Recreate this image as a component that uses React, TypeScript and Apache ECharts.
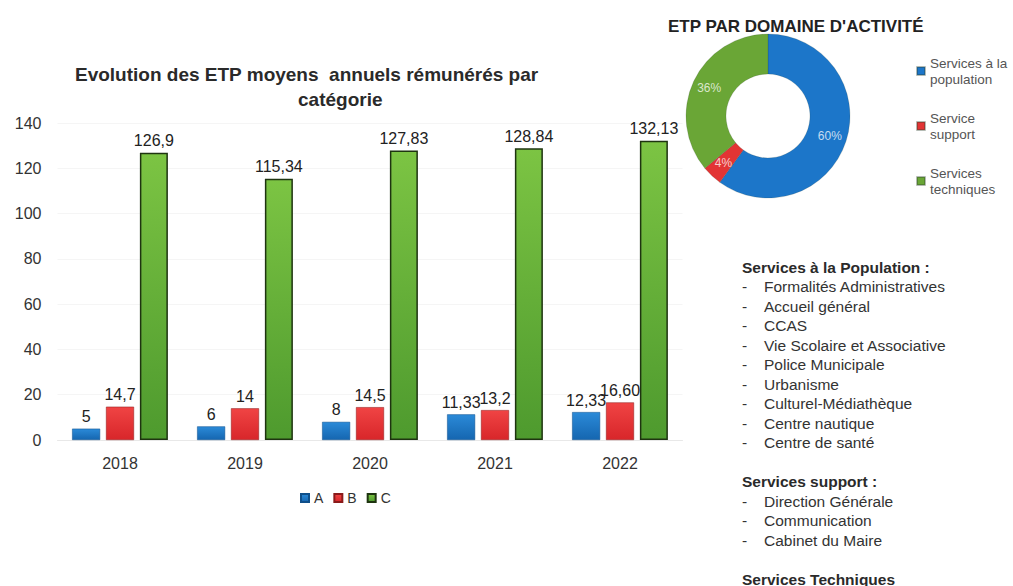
import React, { useEffect, useRef } from "react";
import * as echarts from "echarts";

const years = ["2018", "2019", "2020", "2021", "2022"];
const valuesA = [5, 6, 8, 11.33, 12.33];
const valuesB = [14.7, 14, 14.5, 13.2, 16.6];
const valuesC = [126.9, 115.34, 127.83, 128.84, 132.13];
const labelsA = ["5", "6", "8", "11,33", "12,33"];
const labelsB = ["14,7", "14", "14,5", "13,2", "16,60"];
const labelsC = ["126,9", "115,34", "127,83", "128,84", "132,13"];
const yTicks = { min: 0, max: 140, interval: 20 };

const domainNames = ["Services à la\npopulation", "Service\nsupport", "Services\ntechniques"];
const domainValues = [60, 4, 36];

const populationHeader = "Services à la Population :";
const populationItems = [
  "Formalités Administratives",
  "Accueil général",
  "CCAS",
  "Vie Scolaire et Associative",
  "Police Municipale",
  "Urbanisme",
  "Culturel-Médiathèque",
  "Centre nautique",
  "Centre de santé",
];
const supportHeader = "Services support :";
const supportItems = ["Direction Générale", "Communication", "Cabinet du Maire"];
const techHeader = "Services Techniques";

const FONT = "'Liberation Sans', Arial, Helvetica, sans-serif";

export default function App() {
  const ref = useRef<HTMLDivElement>(null);
  useEffect(() => {
    if (!ref.current) return;
    const chart = echarts.init(ref.current, undefined, { renderer: "svg" });
    const grad = (top: string, bottom: string) =>
      new echarts.graphic.LinearGradient(0, 0, 0, 1, [
        { offset: 0, color: top },
        { offset: 1, color: bottom },
      ]);

    const graphics: any[] = [];
    const lineH = 19.5;
    let y = 267;
    const addHeader = (t: string) => {
      graphics.push({
        type: "text",
        x: 742,
        y,
        style: { text: t, font: `bold 15.5px ${FONT}`, fill: "#2a2a2a", verticalAlign: "middle" },
      });
      y += lineH;
    };
    const addItem = (t: string) => {
      graphics.push({
        type: "text",
        x: 742,
        y,
        style: { text: "-", font: `15.5px ${FONT}`, fill: "#333", verticalAlign: "middle" },
      });
      graphics.push({
        type: "text",
        x: 764,
        y,
        style: { text: t, font: `15.5px ${FONT}`, fill: "#333", verticalAlign: "middle" },
      });
      y += lineH;
    };
    addHeader(populationHeader);
    populationItems.forEach(addItem);
    y += lineH;
    addHeader(supportHeader);
    supportItems.forEach(addItem);
    y += lineH;
    addHeader(techHeader);

    const barLabel = (labels: string[]) => ({
      show: true,
      position: "top",
      distance: 4,
      fontSize: 16,
      color: "#222",
      fontFamily: FONT,
      formatter: (p: any) => labels[p.dataIndex],
    });

    chart.setOption({
      animation: false,
      backgroundColor: "#ffffff",
      textStyle: { fontFamily: FONT },
      title: [
        {
          text: "Evolution des ETP moyens  annuels rémunérés par",
          left: 70,
          top: 60,
          textStyle: { fontSize: 19, fontWeight: "bold", color: "#2a2a2a", fontFamily: FONT },
        },
        {
          text: "catégorie",
          left: 293,
          top: 85,
          textStyle: { fontSize: 19, fontWeight: "bold", color: "#2a2a2a", fontFamily: FONT },
        },
        {
          text: "ETP PAR DOMAINE D'ACTIVITÉ",
          left: 663,
          top: 13,
          textStyle: { fontSize: 17, fontWeight: "bold", color: "#222", fontFamily: FONT },
        },
      ],
      legend: [
        {
          data: ["A", "B", "C"],
          left: 295,
          top: 486,
          icon: "rect",
          itemWidth: 8,
          itemHeight: 8,
          itemGap: 10,
          textStyle: { fontSize: 14, color: "#333", fontFamily: FONT },
        },
        {
          data: domainNames,
          orient: "vertical",
          left: 911,
          top: 50,
          icon: "rect",
          itemWidth: 8,
          itemHeight: 8,
          itemGap: 23,
          textStyle: { fontSize: 13.5, color: "#555", lineHeight: 16, fontFamily: FONT },
        },
      ],
      grid: { left: 57.5, right: 330.5, top: 123, bottom: 146, containLabel: false },
      xAxis: {
        type: "category",
        data: years,
        axisTick: { show: false },
        axisLine: { lineStyle: { color: "#e8e8e8" } },
        axisLabel: { fontSize: 16, color: "#333", margin: 15, fontFamily: FONT },
      },
      yAxis: {
        type: "value",
        min: yTicks.min,
        max: yTicks.max,
        interval: yTicks.interval,
        axisLabel: { fontSize: 16, color: "#333", margin: 16, fontFamily: FONT },
        splitLine: { lineStyle: { color: "#f5f5f5" } },
        axisLine: { show: false },
        axisTick: { show: false },
      },
      series: [
        {
          name: "A",
          type: "bar",
          data: valuesA,
          barWidth: 28,
          barGap: "21%",
          itemStyle: { color: grad("#2b8ad8", "#1566b0"), borderColor: "#0f4f8a", borderWidth: 0.5 },
          label: barLabel(labelsA),
        },
        {
          name: "B",
          type: "bar",
          data: valuesB,
          barWidth: 28,
          barGap: "21%",
          itemStyle: { color: grad("#f04444", "#d8262a"), borderColor: "#8a1a1a", borderWidth: 0.5 },
          label: barLabel(labelsB),
        },
        {
          name: "C",
          type: "bar",
          data: valuesC,
          barWidth: 28,
          barGap: "21%",
          itemStyle: { color: grad("#7cc443", "#4e9a2e"), borderColor: "#1e3410", borderWidth: 1.5 },
          label: barLabel(labelsC),
        },
        {
          name: "Domaines",
          type: "pie",
          center: [768, 116],
          radius: [42, 82],
          startAngle: 90,
          clockwise: true,
          legendHoverLink: false,
          label: {
            show: true,
            position: "inside",
            formatter: "{d}%",
            fontSize: 12,
            color: "rgba(255,255,255,0.75)",
            fontFamily: FONT,
          },
          labelLine: { show: false },
          itemStyle: { borderColor: "rgba(40,60,40,0.35)", borderWidth: 0.5 },
          data: domainNames.map((n, i) => ({
            name: n,
            value: domainValues[i],
            itemStyle: { color: ["#1c76c9", "#e23434", "#6aa636"][i] },
          })),
        },
      ],
      graphic: graphics,
    });
    return () => chart.dispose();
  }, []);
  return (
    <div
      ref={ref}
      style={{ position: "fixed", left: 0, top: 0, width: 1013, height: 586, background: "#fff" }}
    />
  );
}
